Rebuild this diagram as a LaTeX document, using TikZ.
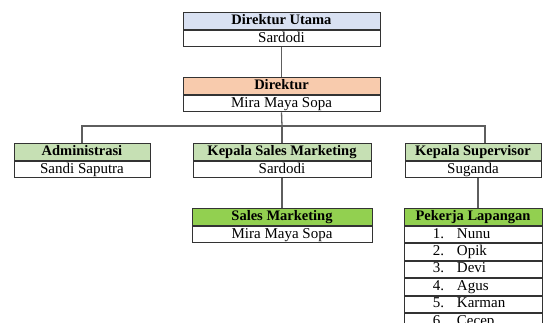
\documentclass[tikz,border=0pt]{standalone}
\usepackage{fontspec}
\setmainfont{Liberation Serif}

\definecolor{hdrblue}{HTML}{D9E1F2}
\definecolor{hdrpeach}{HTML}{F8CBAD}
\definecolor{hdrlight}{HTML}{C6E0B4}
\definecolor{hdrgreen}{HTML}{92D050}
\definecolor{linegray}{HTML}{5E5E5E}

\tikzset{
  cell/.style={draw=black!80, line width=0.9pt, fill=white, inner sep=0pt,
    minimum height=16.5, text height=10.5, text depth=3.5, anchor=north,
    font=\fontsize{15}{16}\selectfont},
  head/.style={cell, minimum height=17, font=\fontsize{14.5}{16}\selectfont\bfseries},
  link/.style={draw=linegray, line width=1.3pt},
}

\begin{document}
\begin{tikzpicture}[x=1pt,y=-1pt]
\useasboundingbox (0,0) rectangle (544,322);
\clip (0,0) rectangle (544,322);

% top of the chart
\node[head, fill=hdrblue, minimum width=197] (utama) at (281.5,12) {Direktur Utama};
\node[cell, minimum width=197] (utamanm) at (utama.south) {Sardodi};

\node[head, fill=hdrpeach, minimum width=197] (dir) at (281.5,77) {Direktur};
\node[cell, minimum width=197] (dirnm) at (dir.south) {Mira Maya Sopa};

% second level
\node[head, fill=hdrlight, minimum width=136] (adm) at (82,143) {Administrasi};
\node[cell, minimum width=136] (admnm) at (adm.south) {Sandi Saputra};

\node[head, fill=hdrlight, minimum width=178] (ksm) at (282,143) {Kepala Sales Marketing};
\node[cell, minimum width=178] (ksmnm) at (ksm.south) {Sardodi};

\node[head, fill=hdrlight, minimum width=136] (sup) at (473,143) {Kepala Supervisor};
\node[cell, minimum width=136] (supnm) at (sup.south) {Suganda};

% third level
\node[head, fill=hdrgreen, minimum width=180] (sm) at (282,208) {Sales Marketing};
\node[cell, minimum width=180] (smnm) at (sm.south) {Mira Maya Sopa};

\node[head, fill=hdrgreen, minimum width=138] (pl) at (473,208) {Pekerja Lapangan};
\coordinate (plrow0) at (pl.south);
\foreach \nama [count=\i, evaluate=\i as \prev using int(\i-1)] in {Nunu,Opik,Devi,Agus,Karman,Cecep}
  \node[cell, minimum width=138] (plrow\i) at (plrow\prev.south)
    {\hbox to 138pt{\hskip 24pt\hbox to 16pt{\hfil\i.}\hskip 13pt\nama\hfil}};

% connectors
\coordinate (bus) at (282,126);
\draw[link] (utamanm.south) -- (dir.north);
\draw[link] (dirnm.south) -- (bus);
\draw[link] (adm.north) |- (bus) -| ([xshift=12]sup.north);
\draw[link] (bus) -- (ksm.north);
\draw[link] (ksmnm.south) -- (sm.north);
\draw[link] ([xshift=5]supnm.south) -- ([xshift=5]pl.north);
\end{tikzpicture}
\end{document}
